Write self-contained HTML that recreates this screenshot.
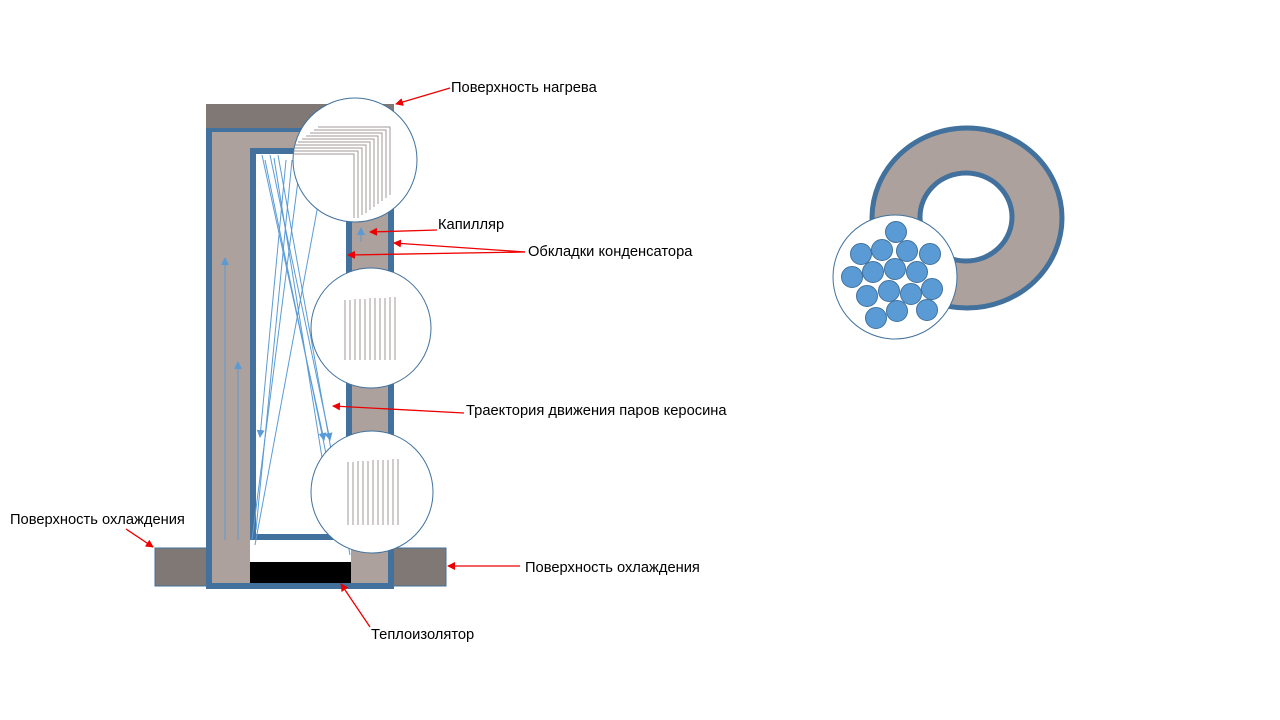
<!DOCTYPE html>
<html><head><meta charset="utf-8"><style>
html,body{margin:0;padding:0;background:#fff;}
svg{display:block;}
text{font-family:"Liberation Sans",sans-serif;font-size:14.7px;fill:#000;}
</style></head><body>
<svg width="1280" height="720" viewBox="0 0 1280 720" xmlns="http://www.w3.org/2000/svg">
<defs>
<marker id="ra" markerWidth="8" markerHeight="8" refX="7" refY="4" orient="auto" markerUnits="userSpaceOnUse"><path d="M0,0 L8,4 L0,8 z" fill="#e00"/></marker>
<marker id="ba" markerWidth="8" markerHeight="8" refX="7" refY="4" orient="auto" markerUnits="userSpaceOnUse"><path d="M0,0 L8,4 L0,8 z" fill="#5b9bd5"/></marker>
<clipPath id="c1"><circle cx="355" cy="160" r="62"/></clipPath>
</defs>
<rect x="155" y="548" width="52" height="38" fill="#7f7874" stroke="#41719c" stroke-width="1"/>
<rect x="393" y="548" width="53" height="38" fill="#7f7874" stroke="#41719c" stroke-width="1"/>
<rect x="206" y="104" width="188" height="485" fill="#41719c"/>
<rect x="206" y="104" width="188" height="24" fill="#7f7874"/>
<rect x="212" y="132" width="176" height="451" fill="#aca19d"/>
<rect x="250" y="148" width="102" height="392" fill="#41719c"/>
<rect x="256" y="154" width="90" height="380" fill="#fff"/>
<rect x="346" y="215" width="6" height="325" fill="#41719c"/>
<rect x="250" y="540" width="101" height="22" fill="#fff"/>
<rect x="250" y="562" width="101" height="21" fill="#000"/>
<g stroke="#5b9bd5" stroke-width="1" fill="none">
<line x1="262" y1="155" x2="324" y2="440" marker-end="url(#ba)"/>
<line x1="270" y1="155" x2="330" y2="440" marker-end="url(#ba)"/>
<line x1="278" y1="155" x2="350" y2="555"/>
<line x1="286" y1="160" x2="260" y2="437" marker-end="url(#ba)"/>
<line x1="300" y1="165" x2="252" y2="540"/>
<line x1="318" y1="205" x2="255" y2="545"/>
<line x1="274" y1="158" x2="332" y2="520"/>
<line x1="292" y1="160" x2="256" y2="530"/>
<line x1="265" y1="160" x2="345" y2="545"/>
<line x1="225" y1="540" x2="225" y2="258" marker-end="url(#ba)"/>
<line x1="238" y1="540" x2="238" y2="362" marker-end="url(#ba)"/>
<line x1="361" y1="242" x2="361" y2="228" marker-end="url(#ba)"/>
</g>
<circle cx="355" cy="160" r="62" fill="#fff" stroke="#41719c" stroke-width="1"/>
<g clip-path="url(#c1)" stroke="#a09a9a" stroke-width="1" fill="none">
<polyline points="318,127 390,127 390,195"/>
<polyline points="314,130 386,130 386,198"/>
<polyline points="310,133 382,133 382,201"/>
<polyline points="306,136 378,136 378,204"/>
<polyline points="302,139 374,139 374,207"/>
<polyline points="298,142 370,142 370,210"/>
<polyline points="294,145 366,145 366,213"/>
<polyline points="290,148 362,148 362,215"/>
<polyline points="288,151 358,151 358,218"/>
<polyline points="286,154 354,154 354,218"/>
</g>
<circle cx="371" cy="328" r="60" fill="#fff" stroke="#41719c" stroke-width="1"/>
<g stroke="#a09a9a" stroke-width="1">
<line x1="345" y1="300" x2="345" y2="360"/><line x1="350" y1="300" x2="350" y2="360"/><line x1="355" y1="299" x2="355" y2="360"/><line x1="360" y1="299" x2="360" y2="360"/><line x1="365" y1="299" x2="365" y2="360"/><line x1="370" y1="298" x2="370" y2="360"/><line x1="375" y1="298" x2="375" y2="360"/><line x1="380" y1="298" x2="380" y2="360"/><line x1="385" y1="298" x2="385" y2="360"/><line x1="390" y1="297" x2="390" y2="360"/><line x1="395" y1="297" x2="395" y2="360"/>
</g>
<circle cx="372" cy="492" r="61" fill="#fff" stroke="#41719c" stroke-width="1"/>
<g stroke="#a09a9a" stroke-width="1">
<line x1="348" y1="462" x2="348" y2="525"/><line x1="353" y1="462" x2="353" y2="525"/><line x1="358" y1="461" x2="358" y2="525"/><line x1="363" y1="461" x2="363" y2="525"/><line x1="368" y1="461" x2="368" y2="525"/><line x1="373" y1="460" x2="373" y2="525"/><line x1="378" y1="460" x2="378" y2="525"/><line x1="383" y1="460" x2="383" y2="525"/><line x1="388" y1="460" x2="388" y2="525"/><line x1="393" y1="459" x2="393" y2="525"/><line x1="398" y1="459" x2="398" y2="525"/>
</g>
<g stroke="#e00" stroke-width="1.3">
<line x1="450" y1="88" x2="396" y2="104" marker-end="url(#ra)"/>
<line x1="437" y1="230" x2="370" y2="232" marker-end="url(#ra)"/>
<line x1="525" y1="252" x2="394" y2="243" marker-end="url(#ra)"/>
<line x1="525" y1="252" x2="348" y2="255" marker-end="url(#ra)"/>
<line x1="464" y1="413" x2="333" y2="406" marker-end="url(#ra)"/>
<line x1="126" y1="529" x2="153" y2="547" marker-end="url(#ra)"/>
<line x1="520" y1="566" x2="448" y2="566" marker-end="url(#ra)"/>
<line x1="370" y1="627" x2="341" y2="584" marker-end="url(#ra)"/>
</g>
<text x="451" y="92">Поверхность нагрева</text>
<text x="438" y="229">Капилляр</text>
<text x="528" y="256">Обкладки конденсатора</text>
<text x="466" y="415">Траектория движения паров керосина</text>
<text x="10" y="524">Поверхность охлаждения</text>
<text x="525" y="572">Поверхность охлаждения</text>
<text x="371" y="639">Теплоизолятор</text>
<ellipse cx="967" cy="218" rx="95" ry="90" fill="#aca19d" stroke="#41719c" stroke-width="5"/>
<ellipse cx="966" cy="217" rx="46" ry="44" fill="#fff" stroke="#41719c" stroke-width="5"/>
<circle cx="895" cy="277" r="62" fill="#fff" stroke="#41719c" stroke-width="1"/>
<g fill="#5b9bd5" stroke="#41719c" stroke-width="1">
<circle cx="896" cy="232" r="10.5"/>
<circle cx="861" cy="254" r="10.5"/><circle cx="882" cy="250" r="10.5"/><circle cx="907" cy="251" r="10.5"/><circle cx="930" cy="254" r="10.5"/>
<circle cx="852" cy="277" r="10.5"/><circle cx="873" cy="272" r="10.5"/><circle cx="895" cy="269" r="10.5"/><circle cx="917" cy="272" r="10.5"/>
<circle cx="867" cy="296" r="10.5"/><circle cx="889" cy="291" r="10.5"/><circle cx="911" cy="294" r="10.5"/><circle cx="932" cy="289" r="10.5"/>
<circle cx="876" cy="318" r="10.5"/><circle cx="897" cy="311" r="10.5"/><circle cx="927" cy="310" r="10.5"/>
</g>
</svg>
</body></html>
